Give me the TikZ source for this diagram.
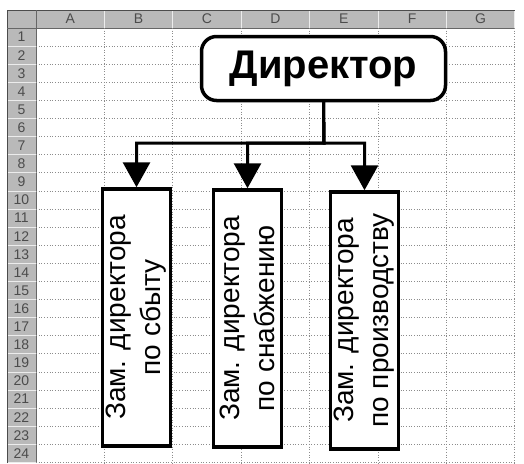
\documentclass[tikz,border=0pt]{standalone}
\usepackage{fontspec}
\setmainfont{Liberation Sans}
\usetikzlibrary{arrows.meta}

\begin{document}
\begin{tikzpicture}[x=1pt,y=-1pt,
  cell/.style={gray!90, dotted, line width=0.7pt},
  hdr/.style={font=\fontsize{14}{14}\selectfont, text=black!70, inner sep=0pt},
  zambox/.style={draw, line width=3.5pt, fill=white, rotate=90, minimum width=257pt,
    minimum height=68pt, inner sep=0pt, align=center, font=\fontsize{28}{35}\selectfont},
  conn/.style={line width=3pt, -{Triangle[length=25pt,width=27pt]}}]
  \useasboundingbox[fill=white] (0,0) rectangle (524,463);
  % Sheet headers
  \fill[gray!55] (7,10) rectangle (515,28);
  \fill[gray!55] (7,28) rectangle (36,463);
  \foreach \i in {1,...,7}
    \draw[gray!15, line width=0.8pt] (36+68.4*\i,10) -- (36+68.4*\i,28);
  \foreach \j in {1,...,24}
    \draw[gray!15, line width=0.8pt] (7,28+18.1*\j) -- (36,28+18.1*\j);
  \draw[black!70, line width=0.8pt] (7,463) -- (7,10) -- (515,10);
  \draw[black!60, line width=0.6pt] (36,10) -- (36,463);
  \draw[black!60, line width=0.6pt] (7,28) -- (515,28);
  % Cell grid
  \foreach \i in {1,...,7}
    \draw[cell] (36+68.4*\i,28) -- (36+68.4*\i,463);
  \foreach \j in {1,...,24}
    \draw[cell] (36,28+18.1*\j) -- (515,28+18.1*\j);
  \foreach \L [count=\i from 0] in {A,B,C,D,E,F,G}
    \node[hdr] (col\L) at (70.2+68.4*\i,19) {\L};
  \foreach \r in {1,...,24}
    \node[hdr] (row\r) at (21.5,18.95+18.1*\r) {\r};
  % Chart
  \node[draw, line width=3.5pt, rounded corners=15pt, fill=white, minimum width=244pt,
    minimum height=64pt, font=\bfseries\fontsize{40}{40}\selectfont] (dir) at (323.5,68.5) {Директор};
  \node[zambox] (zbyt) at (136.5,317.5) {Зам. директора\\по сбыту};
  \node[zambox] (zsnab) at (247.5,318.5) {Зам. директора\\по снабжению};
  \node[zambox] (zproiz) at (364.5,320.5) {Зам. директора\\по производству};
  \coordinate (bus) at (324,143);
  \draw[conn] (dir.south) -- (bus) -| (zbyt.east);
  \draw[conn] (dir.south) -- (bus) -| (zsnab.east);
  \draw[conn] (dir.south) -- (bus) -| (zproiz.east);
\end{tikzpicture}
\end{document}
